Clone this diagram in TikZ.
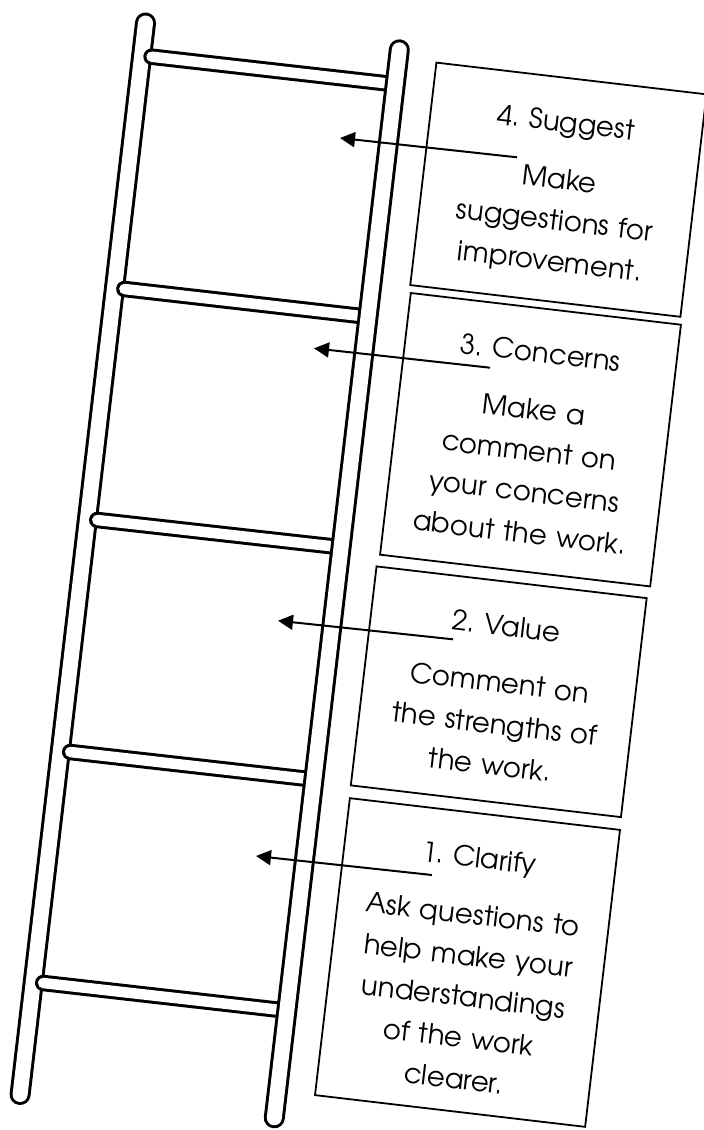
\documentclass[tikz,border=0pt]{standalone}
\usepackage{fontspec}
\setmainfont{TeX Gyre Adventor}
\usetikzlibrary{arrows.meta,calc}
\frenchspacing
\begin{document}
\begin{tikzpicture}[x=1pt,y=-1pt,
  railout/.style={line width=21pt, line cap=round, draw=black},
  railin/.style={line width=15pt, line cap=round, draw=white},
  rungout/.style={line width=16.5pt, line cap=round, draw=black},
  rungin/.style={line width=10.5pt, line cap=round, draw=white},
  card/.style={draw, line width=1.8pt, fill=white, minimum width=272pt, rotate=-6.7, inner sep=0pt},
  cardtext/.style={rotate=-6.7, anchor=base, text width=272pt, align=center, inner sep=0pt, font=\fontsize{27.5}{41.3}\selectfont\frenchspacing},
  pointer/.style={line width=2pt, -{Triangle[length=15pt,width=15pt]}}
]
\useasboundingbox (0,0) rectangle (704,1130);
\clip (0,0) rectangle (704,1130);
\fill[white] (0,0) rectangle (704,1130);

% ladder rails and rungs
\coordinate (LT) at (145.5,23);
\coordinate (LB) at (20.1,1094.5);
\coordinate (RT) at (399.3,49.8);
\coordinate (RB) at (274.3,1117.8);
\draw[railout] (LT) -- (LB);
\draw[railin] (LT) -- (LB);

\coordinate (r1a) at (151.6,56.7);  \coordinate (r1b) at (395,84.3);
\coordinate (r2a) at (124.4,289);   \coordinate (r2b) at (368,316.8);
\coordinate (r3a) at (97.3,520);    \coordinate (r3b) at (341,547.3);
\coordinate (r4a) at (70.2,752);    \coordinate (r4b) at (314,779.6);
\coordinate (r5a) at (43.2,983);    \coordinate (r5b) at (287,1010.7);
\foreach \r in {1,...,5}{
  \draw[rungout] (r\r a) -- (r\r b);
  \draw[rungin] (r\r a) -- (r\r b);
}
\draw[railout] (RT) -- (RB);
\draw[railin] (RT) -- (RB);

% cards
\node[card, minimum height=224pt]   (b4) at (558.4,189.7) {};
\node[card, minimum height=263.5pt] (b3) at (530.5,439.7) {};
\node[card, minimum height=220.5pt] (b2) at (498.75,691.75) {};
\node[card, minimum height=299pt]   (b1) at (467.5,962.5) {};

\node[cardtext] (t4) at ($(b4.north)!55pt!(b4.south)$)
  {4. Suggest\\[15.7pt] Make\\ suggestions for\\ improvement.};
\node[cardtext] (t3) at ($(b3.north)!55pt!(b3.south)$)
  {3. Concerns\\[15.7pt] Make a\\ comment on\\ your concerns\\ about the work.};
\node[cardtext] (t2) at ($(b2.north)!55pt!(b2.south)$)
  {2. Value\\[15.7pt] Comment on\\ the strengths of\\ the work.};
\node[cardtext] (t1) at ($(b1.north)!55pt!(b1.south)$)
  {1. Clarify\\[15.7pt] Ask questions to\\ help make your\\ understandings\\ of the work\\ clearer.};

% pointers
\coordinate (a4s) at (517,157.3); \coordinate (a4e) at (340,138);
\coordinate (a3s) at (490,367.7); \coordinate (a3e) at (314,348.3);
\coordinate (a2s) at (453,639.3); \coordinate (a2e) at (278,620.7);
\coordinate (a1s) at (432,875);   \coordinate (a1e) at (256,856);
\foreach \a in {1,...,4}{
  \draw[pointer] (a\a s) -- (a\a e);
}
\end{tikzpicture}
\end{document}
